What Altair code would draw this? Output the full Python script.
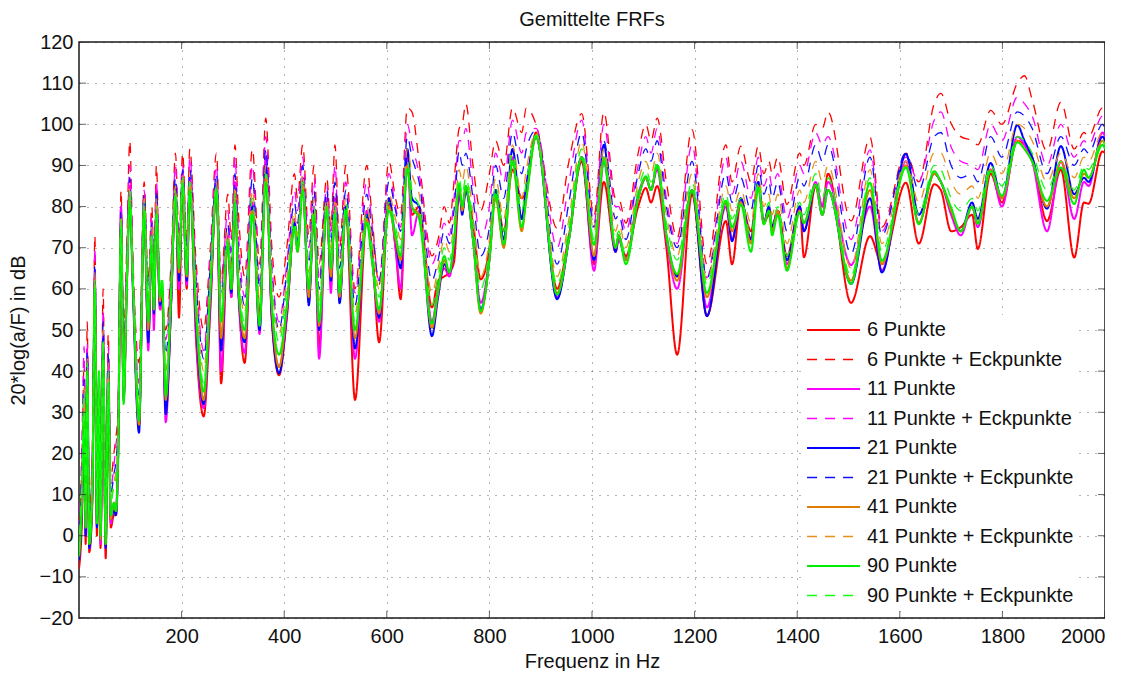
import altair as alt
import pandas as pd

FONT = "Liberation Sans"

# Frequency grid (Hz) of the traced key points
freq = [0, 6, 10, 13, 16, 20, 26, 31, 35, 39,
        42, 47, 52, 57, 62, 68, 72, 76, 82, 87,
        93, 99, 105, 117, 127, 135, 142, 146, 151, 158,
        162, 169, 180, 188, 195, 202, 210, 216, 228, 243,
        256, 268, 277, 290, 297, 304, 311, 323, 338, 352,
        364, 376, 390, 405, 420, 426, 436, 448, 458, 468,
        483, 491, 499, 508, 520, 538, 561, 571, 585, 604,
        617, 627, 640, 649, 663, 688, 700, 712, 722, 731,
        741, 747, 754, 768, 783, 800, 812, 828, 845, 863,
        872, 891, 932, 955, 980, 1004, 1023, 1046, 1052, 1066,
        1090, 1105, 1115, 1127, 1145, 1166, 1195, 1224, 1261, 1273,
        1290, 1310, 1324, 1335, 1345, 1351, 1362, 1380, 1405, 1413,
        1436, 1449, 1460, 1505, 1542, 1565, 1612, 1637, 1667, 1680,
        1700, 1719, 1741, 1752, 1777, 1799, 1829, 1843, 1858, 1887,
        1914, 1940, 1959, 1968, 1995, 2000]

p90 = [-5, 10, 30, 2, 40, -2, 10, 60, 3, 40,
       0, 45, -2, 37, 5, 8, 6, 18, 75, 32,
       59, 81, 62, 28, 79, 52, 72, 55, 78, 58,
       62, 34, 60, 82.5, 65, 85.7, 63.5, 84, 55, 35,
       60, 84, 52, 71, 60, 81, 60, 50, 78, 51,
       86, 56, 44, 56, 75, 69, 84, 60, 78, 52,
       79, 65, 78, 59, 79, 50, 76, 67, 55, 79,
       73, 68, 89, 80, 77, 51.5, 60, 68, 64, 72,
       85.5, 80, 85, 72, 54.6, 67, 83, 70.8, 91, 75,
       82, 97, 58.6, 72, 92, 70.7, 91, 70, 72.8, 66,
       82, 87.4, 84, 90, 73, 63.6, 84, 59, 81.4, 75,
       80.5, 69, 84.6, 75.7, 79, 73, 78, 64.4, 78.6, 76,
       85.4, 78, 84, 61.2, 85.8, 66.8, 89.5, 75.7, 88.6, 86,
       79.8, 74, 80, 75.8, 88.6, 82.6, 95.6, 94, 91, 81.4,
       89.5, 80.6, 89, 87, 95, 94]

p41 = [-5, 10, 32, 2, 40, -2, 12, 61, 3, 38,
       -1, 46, -2, 38, 4, 8, 6, 18, 76, 33,
       60, 82, 62, 27, 80, 50, 72, 55, 78, 57,
       61, 33, 60, 83, 64, 86, 63, 85, 54, 33,
       59, 84, 48, 71, 60, 82, 60, 48, 79, 52,
       87, 55, 41, 55, 75, 69, 85, 58, 78, 51,
       80, 63, 79, 58, 79, 48, 77, 67, 54, 80,
       72, 67, 90, 80, 78, 50.5, 59, 67, 64, 71,
       85, 79, 85, 72, 54, 67, 82, 70, 91, 74,
       82, 97, 59, 72, 92, 68, 92, 70, 73, 67,
       82, 87, 84, 90, 73, 62, 84, 58, 81, 74,
       81, 71, 85, 76, 79, 74, 79, 65, 79, 76,
       85, 78, 84, 62, 84, 66, 90, 76, 88, 86,
       79, 74, 80, 76, 89, 82, 96, 94, 91, 80,
       91, 82, 88, 87, 96, 95]

p21 = [-6, 8, 30, 0, 42, -3, 10, 62, 2, 39,
       -1, 47, -3, 40, 4, 6, 5, 17, 77, 33,
       60, 83, 60, 25, 81, 47, 73, 54, 79, 56,
       60, 29.5, 58, 84, 62, 87, 62, 86, 52, 32,
       58, 85, 45, 72, 59, 84, 59, 47, 80, 50,
       90, 53, 39.5, 54, 76, 70, 86, 56, 79, 50,
       81, 62, 80, 56.5, 80, 45.5, 78, 68, 53, 82,
       72, 65, 94, 82, 80, 48.5, 58, 66, 64, 70,
       84, 78, 84, 72, 55, 67, 84, 72, 94, 77,
       85, 97, 57.5, 72, 92, 67, 95, 69, 73, 67,
       82, 87, 84, 90, 73, 63, 84, 53.4, 81, 71.6,
       82, 72, 86, 76, 80, 75, 79, 67, 80, 74,
       85, 78, 84, 61.2, 82, 64, 92.8, 78, 88, 86,
       79, 74, 81, 77, 90.6, 82, 99.8, 96, 92, 79.5,
       94.7, 83, 87, 86, 97, 96]

p11 = [-6, 12, 35, 0, 44, -3, 12, 62, 2, 37,
       -2, 48, -3, 42, 3, 7, 6, 22, 80, 35,
       62, 85, 62, 27, 82, 45, 74, 50, 80, 55,
       58, 27.6, 58, 85, 60, 88, 61, 87, 50, 31,
       56, 86, 40, 73, 58, 86, 58, 44.5, 81, 49,
       92, 53, 41, 53, 77, 70, 87, 57, 80, 43,
       82, 59, 82, 57, 80, 43, 79, 68, 52, 82,
       70, 60, 93, 73, 79, 52, 60, 65, 63, 70,
       84, 79, 84, 73, 56.6, 68, 84, 70.5, 92, 77,
       85, 97, 58, 72, 92, 64.4, 91, 69, 72, 67,
       83, 87, 84, 89, 72, 60, 84, 55.5, 80, 72,
       82, 72, 86, 76, 80, 75, 79, 66, 80, 74,
       86, 80, 86, 65.8, 80, 64.5, 91, 76, 88, 86,
       78, 73, 80, 75, 89, 80, 97, 95, 91, 74,
       91, 77, 86, 85, 98, 97]

p6 = [-8, 5, 28, -2, 38, -4, 8, 58, 0, 35,
      -3, 44, -5.5, 36, 2, 5, 5, 18, 76, 34,
      60, 84, 62, 27, 80, 48, 73, 53, 80, 55,
      58, 30, 58, 84, 53, 86, 60, 86, 48, 29,
      55, 85, 37, 72, 58, 85, 60, 42, 80, 54,
      88, 52, 39, 53, 76, 70, 86, 58, 79, 46,
      81, 62, 80, 58, 79, 33, 77, 70, 47, 81,
      70, 57.5, 92, 78, 80, 55.5, 62, 63, 64, 66.5,
      83, 80, 84, 76, 62.3, 70, 84, 74, 89, 82,
      84, 98, 60, 73, 91, 66, 86, 69, 72, 68,
      80, 84.5, 81, 85, 70, 44, 83, 53.4, 76.5, 66,
      81, 74, 85, 76, 78, 75, 79, 68, 80, 67.7,
      85, 80, 88, 56.6, 72.8, 66, 85.8, 71, 85.4, 84,
      74, 75, 78, 69.7, 88, 81, 96, 95, 92, 76.5,
      89, 67.6, 81, 80.7, 93.4, 93]

p90e = [-4, 15, 35, 5, 42, 0, 15, 62, 5, 40,
        3, 48, 1, 40, 8, 12, 14, 22, 77, 36,
        62, 84, 64, 31, 81, 55, 74, 58, 80, 60,
        63, 38, 62, 84, 67, 87, 65, 86, 58, 37,
        62, 85, 55, 72, 62, 83, 63, 52, 82, 55,
        88, 60, 47, 60, 77, 71, 86, 62, 80, 55,
        81, 67, 80, 61, 81, 52, 78, 70, 58, 81,
        75, 70, 91, 84, 80, 56, 63, 70, 67, 74,
        87, 83, 87, 76, 60, 70, 85, 74, 93, 79,
        86, 97.5, 61, 75, 94, 72, 92, 72, 74, 68,
        84, 89, 86, 91, 76, 67, 86, 61, 83, 77,
        82, 73, 86, 78, 81, 76, 80, 68, 81, 78,
        88, 82, 87, 63, 87, 69, 90, 78, 90, 89,
        82, 79, 82, 79, 90, 85, 97, 96, 93, 84,
        91, 84, 90, 89, 96, 95]

p41e = [-4, 15, 36, 6, 43, 2, 16, 64, 6, 38,
        3, 50, 2, 42, 9, 13, 16, 24, 78, 38,
        63, 85, 64, 32, 82, 57, 75, 60, 82, 60,
        62, 40, 63, 85, 68, 88, 66, 87, 60, 40,
        64, 86, 57, 74, 64, 85, 66, 54, 84, 57,
        90, 62, 49, 62, 79, 73, 88, 64, 82, 57,
        82, 69, 82, 63, 82, 54, 80, 72, 60, 83,
        77, 72, 94, 88, 83, 59, 65, 72, 69, 76,
        89, 86, 90, 78, 63, 72, 87, 77, 95, 82,
        89, 98, 63, 77, 96, 74, 94, 74, 76, 70,
        86, 91, 88, 93, 78, 68, 88, 62, 85, 79,
        84, 76, 88, 80, 83, 78, 83, 71, 84, 81,
        91, 86, 90, 65, 89, 71, 91, 81, 93, 93,
        86, 83, 85, 82, 93, 88, 100, 99, 96, 86,
        93, 87, 92, 91, 98, 97]

p21e = [-3, 18, 38, 8, 45, 3, 18, 66, 7, 39,
        4, 52, 3, 44, 10, 15, 18, 26, 79, 40,
        64, 87, 64, 34, 83, 58, 76, 62, 84, 58,
        60, 44, 64, 87, 69, 89, 68, 89, 62, 43,
        66, 88, 58, 76, 66, 88, 69, 56, 87, 60,
        94, 64, 50, 64, 81, 76, 90, 66, 84, 60,
        84, 71, 86, 65, 84, 56, 83, 74, 62, 86,
        79, 74, 97, 92, 86, 62, 67, 74, 71, 79,
        93.5, 90, 93, 82, 68, 75, 90, 82, 98, 88,
        94, 98.5, 66, 81, 98, 75, 96, 77, 78, 72,
        88, 94, 91, 96, 80, 70, 91, 62.5, 88, 81,
        87, 79, 90, 83, 86, 82, 86, 74, 87, 85,
        95, 91, 95, 68.5, 92, 73, 93, 84, 97, 98,
        90, 87, 88, 86, 97, 92, 103, 102, 99, 88,
        97, 90, 94, 93, 100, 99]

p11e = [-3, 25, 46, 10, 47, 4, 20, 70, 8, 38,
        5, 55, 4, 46, 12, 17, 22, 28, 80, 44,
        66, 90, 66, 37, 84, 60, 78, 64, 86, 57,
        58, 47.6, 66, 90, 70, 90, 70, 92, 64, 45,
        68, 90, 60, 79, 69, 92, 73, 58, 90, 62,
        97, 66, 52, 66, 84, 79, 92, 70, 87, 62,
        85, 73, 90, 67, 86, 59, 86, 76, 62, 88,
        80, 75, 100, 95, 88, 66, 70, 76, 73, 82,
        96, 96, 99, 85, 72.5, 80, 93, 86, 101, 93,
        98, 99, 70, 86, 101, 76, 100, 80, 80, 74,
        90, 97, 93, 99, 82, 71, 95, 62.7, 92, 83,
        91, 82, 92, 85, 88, 85, 88, 77, 90, 88,
        98, 95, 97, 72, 93.8, 74, 92, 86, 101, 103,
        94.5, 91, 90, 89, 100, 96, 106.6, 105, 102, 90,
        100, 92, 96, 95, 102, 101]

p6e = [-2, 20, 42, 12, 52, 6, 22, 73, 10, 36,
       6, 60, 6, 49, 14, 20, 24, 30, 84, 48,
       70, 96, 68, 42, 86, 62, 80, 66, 90, 55,
       56, 50, 68, 93, 72, 93, 72, 94, 67, 50,
       70, 93, 62, 83, 72, 95, 78, 63, 94, 66,
       101.5, 70, 58, 70, 88, 82, 95, 73, 90, 66,
       87, 75, 95, 70, 90, 60, 90, 78, 61, 91,
       82, 78, 104, 103, 91, 68, 72, 80, 76, 86,
       99, 100, 105, 90, 79, 88, 96, 90, 104, 98,
       104, 100, 74.7, 91, 102.6, 77.7, 103, 82, 82, 76,
       93, 100, 96, 101.5, 86, 72.4, 98.7, 66, 95, 86,
       94.7, 86, 94.7, 88, 91, 88, 92, 80.5, 93, 90,
       100, 99, 103, 76.5, 96.8, 75, 93, 86, 105, 107.5,
       100.2, 97, 96, 95, 103.4, 100, 110, 111.8, 106, 93.5,
       105.4, 94, 98, 97, 104, 103]

names = ["6 Punkte", "6 Punkte + Eckpunkte",
         "11 Punkte", "11 Punkte + Eckpunkte",
         "21 Punkte", "21 Punkte + Eckpunkte",
         "41 Punkte", "41 Punkte + Eckpunkte",
         "90 Punkte", "90 Punkte + Eckpunkte"]
series = [p6, p6e, p11, p11e, p21, p21e, p41, p41e, p90, p90e]
colors = ["#ff0000", "#ff0000", "#ff00ff", "#ff00ff", "#0000ff", "#1010ff",
          "#de7d00", "#e8901e", "#00ee00", "#10ff10"]
dashes = [[1, 0], [10, 8]] * 5
widths = [2, 1.3] * 5

xticks = list(range(200, 2001, 200))
yticks = list(range(-20, 121, 10))

rows = []
for k, (nm, vals) in enumerate(zip(names, series)):
    assert len(vals) == len(freq), nm
    for f, v in zip(freq, vals):
        rows.append({"f": f, "dB": v, "Serie": nm, "k": k})
df = pd.DataFrame(rows)

W, H = 1026, 576

x_enc = alt.X("f:Q", scale=alt.Scale(domain=[0, 2000], nice=False, zero=False),
              axis=alt.Axis(values=xticks, format="d", title="Frequenz in Hz",
                            labelPadding=8, titlePadding=5))
y_enc = alt.Y("dB:Q", scale=alt.Scale(domain=[-20, 120], nice=False, zero=False),
              axis=alt.Axis(values=yticks, format="d", title="20*log(a/F) in dB",
                            labelPadding=6, titlePadding=11))

leg = alt.Legend(title=None, orient="none", legendX=722, legendY=273,
                 fillColor="white", padding=5, symbolType="stroke",
                 symbolSize=2800, clipHeight=20, rowPadding=9.5,
                 labelOffset=6, labelFontSize=20, labelFont=FONT,
                 labelLimit=400, labelColor="#111")

lines = alt.Chart(df).mark_line(interpolate="monotone", strokeCap="butt", clip=True).encode(
    x=x_enc,
    y=y_enc,
    color=alt.Color("Serie:N", scale=alt.Scale(domain=names, range=colors), legend=leg),
    strokeDash=alt.StrokeDash("Serie:N", scale=alt.Scale(domain=names, range=dashes), legend=leg),
    strokeWidth=alt.StrokeWidth("Serie:N", scale=alt.Scale(type="ordinal", domain=names, range=widths), legend=leg),
    order="f:Q",
)

ydf = pd.DataFrame({"dB": yticks})
xdf = pd.DataFrame({"f": xticks})
tick_style = dict(thickness=1, color="#222222", clip=True)
t_left = alt.Chart(ydf).mark_tick(orient="horizontal", size=14, **tick_style).encode(y=y_enc, x=alt.value(0))
t_right = alt.Chart(ydf).mark_tick(orient="horizontal", size=14, **tick_style).encode(y=y_enc, x=alt.value(W))
t_bot = alt.Chart(xdf).mark_tick(orient="vertical", size=14, **tick_style).encode(x=x_enc, y=alt.value(H))
t_top = alt.Chart(xdf).mark_tick(orient="vertical", size=14, **tick_style).encode(x=x_enc, y=alt.value(0))

chart = alt.layer(lines, t_left, t_right, t_bot, t_top).properties(
    width=W, height=H,
    padding={"left": 0, "top": 2, "right": 0, "bottom": 0},
    title=alt.TitleParams("Gemittelte FRFs", fontSize=20, font=FONT,
                          fontWeight="normal", offset=2, color="#111"),
).configure_view(stroke="#1a1a1a", strokeWidth=1.5).configure_axis(
    labelFont=FONT, titleFont=FONT, labelFontSize=20, titleFontSize=20,
    titleFontWeight="normal", labelColor="#111", titleColor="#111",
    ticks=False, domain=False, grid=True, gridColor="#000000",
    gridOpacity=0.6, gridDash=[1, 7], gridWidth=1,
)

chart.save("out.html", embed_options={"renderer": "svg", "actions": False})
